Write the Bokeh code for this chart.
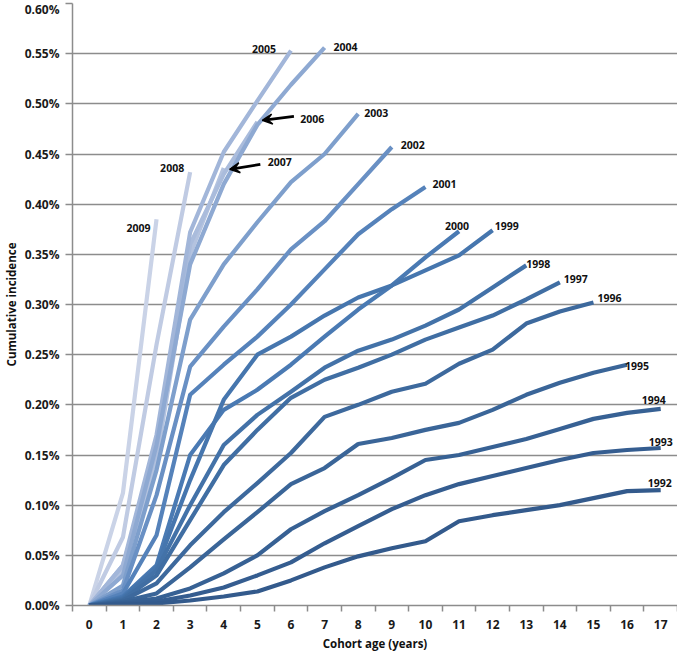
from bokeh.plotting import figure
from bokeh.models import Range1d, FixedTicker, PrintfTickFormatter, Arrow, VeeHead, Label
from bokeh.embed import file_html
from bokeh.resources import INLINE

# ---- data (cumulative incidence, %) ----
ages = list(range(18))
age_labels = [str(a) for a in ages]
cohorts = [1992, 1993, 1994, 1995, 1996, 1997, 1998, 1999, 2000,
           2001, 2002, 2003, 2004, 2005, 2006, 2007, 2008, 2009]

inc_1992 = [0, 0.001, 0.002, 0.005, 0.009, 0.014, 0.025, 0.038, 0.049, 0.057, 0.064, 0.084, 0.090, 0.095, 0.100, 0.107, 0.114, 0.115]
inc_1993 = [0, 0.002, 0.004, 0.010, 0.018, 0.030, 0.043, 0.062, 0.079, 0.096, 0.110, 0.121, 0.129, 0.137, 0.145, 0.152, 0.155, 0.157]
inc_1994 = [0, 0.003, 0.007, 0.017, 0.032, 0.050, 0.076, 0.094, 0.110, 0.127, 0.145, 0.150, 0.158, 0.166, 0.176, 0.186, 0.192, 0.196]
inc_1995 = [0, 0.004, 0.012, 0.038, 0.066, 0.093, 0.121, 0.137, 0.161, 0.167, 0.175, 0.182, 0.195, 0.210, 0.222, 0.232, 0.240]
inc_1996 = [0, 0.005, 0.022, 0.060, 0.093, 0.122, 0.152, 0.188, 0.200, 0.213, 0.221, 0.241, 0.255, 0.281, 0.293, 0.302]
inc_1997 = [0, 0.006, 0.030, 0.085, 0.140, 0.175, 0.207, 0.225, 0.237, 0.250, 0.265, 0.277, 0.289, 0.305, 0.322]
inc_1998 = [0, 0.007, 0.035, 0.100, 0.160, 0.190, 0.213, 0.237, 0.254, 0.265, 0.279, 0.295, 0.317, 0.339]
inc_1999 = [0, 0.008, 0.038, 0.125, 0.205, 0.250, 0.268, 0.289, 0.307, 0.319, 0.334, 0.349, 0.374]
inc_2000 = [0, 0.009, 0.040, 0.150, 0.195, 0.215, 0.240, 0.268, 0.295, 0.319, 0.347, 0.373]
inc_2001 = [0, 0.012, 0.070, 0.210, 0.240, 0.268, 0.300, 0.335, 0.370, 0.395, 0.417]
inc_2002 = [0, 0.015, 0.110, 0.238, 0.278, 0.315, 0.355, 0.383, 0.420, 0.457]
inc_2003 = [0, 0.020, 0.135, 0.285, 0.340, 0.382, 0.422, 0.450, 0.490]
inc_2004 = [0, 0.030, 0.160, 0.340, 0.420, 0.479, 0.519, 0.556]
inc_2005 = [0, 0.040, 0.170, 0.372, 0.452, 0.503, 0.553]
inc_2006 = [0, 0.040, 0.155, 0.360, 0.430, 0.482]
inc_2007 = [0, 0.035, 0.145, 0.350, 0.436]
inc_2008 = [0, 0.068, 0.260, 0.432]
inc_2009 = [0, 0.112, 0.385]

series = [inc_1992, inc_1993, inc_1994, inc_1995, inc_1996, inc_1997, inc_1998,
          inc_1999, inc_2000, inc_2001, inc_2002, inc_2003, inc_2004, inc_2005,
          inc_2006, inc_2007, inc_2008, inc_2009]

y_ticks = [0, 0.05, 0.10, 0.15, 0.20, 0.25, 0.30, 0.35, 0.40, 0.45, 0.50, 0.55, 0.60]

# ---- styles ----
colors = ["#335a8c", "#355d90", "#376194", "#3a6598", "#3d699d", "#406ea3",
          "#4372a8", "#4676ae", "#4a7ab3", "#5582ba", "#6990c4", "#7e9fcc",
          "#8ea9d2", "#a2b6d9", "#aabcdc", "#b4c3df", "#c0cbe3", "#cad3e7"]
# label placement: (x_offset px, y_offset px, align)
label_style = {
    1992: (-13, 7, "left"), 1993: (-12, 6, "left"), 1994: (-19, 9, "left"),
    1995: (-2, -1, "left"), 1996: (4, 4, "left"), 1997: (4, 3, "left"),
    1998: (0, 1, "left"), 1999: (2, 4, "left"), 2000: (-2, 5, "center"),
    2001: (7, 3, "left"), 2002: (9, 2, "left"), 2003: (6, 1, "left"),
    2004: (9, 1, "left"), 2005: (-15, 2, "right"), 2006: (43, 3, "left"),
    2007: (44, 6, "left"), 2008: (-6, 4, "right"), 2009: (-6, -9, "right"),
}

FONT = "Open Sans"
GRID = "#8c8c8c"

p = figure(width=677, height=653, output_backend="svg",
           toolbar_location=None, x_range=Range1d(-0.5, 17.5),
           y_range=Range1d(0, 0.6), min_border_left=67, min_border_right=0,
           min_border_top=3, min_border_bottom=48)
p.outline_line_color = None
p.background_fill_color = "white"

# lines: draw lightest first so darker cohorts are on top
for coh, vals, col in reversed(list(zip(cohorts, series, colors))):
    p.line(ages[:len(vals)], vals, line_color=col, line_width=4.2,
           line_join="round")

for coh, vals in zip(cohorts, series):
    xo, yo, al = label_style[coh]
    p.add_layout(Label(x=len(vals) - 1, y=vals[-1], text=str(coh),
                       x_offset=xo, y_offset=yo, text_align=al,
                       text_baseline="middle", text_font=FONT,
                       text_font_size="10.5px", text_font_style="bold",
                       text_color="#111111"))

# arrows pointing at 2006 and 2007 ends
px = lambda v: (v - 93) / 34.0
py = lambda v: (613 - v) / 1003.0
for (xs, ys, xe, ye) in [(300, 124, 268, 128), (266, 172, 235, 177)]:
    p.add_layout(Arrow(end=VeeHead(size=10, fill_color="black", line_color="black",
                                   line_width=1.5),
                       x_start=px(xs), y_start=py(ys), x_end=px(xe), y_end=py(ye),
                       line_color="black", line_width=2.8))

# axes
p.xaxis.ticker = FixedTicker(ticks=ages, minor_ticks=[a - 0.5 for a in range(19)])
p.xaxis.major_label_overrides = {a: l for a, l in zip(ages, age_labels)}
p.xaxis.major_tick_line_color = None
p.xaxis.major_tick_out = 0
p.xaxis.major_tick_in = 0
p.xaxis.minor_tick_out = 6
p.xaxis.minor_tick_in = 0
p.xaxis.minor_tick_line_color = GRID
p.xaxis.minor_tick_line_width = 1.5
p.xaxis.major_label_standoff = 8
p.xaxis.axis_label = "Cohort age (years)"
p.xaxis.axis_label_standoff = 4

p.yaxis.ticker = FixedTicker(ticks=y_ticks)
p.yaxis.formatter = PrintfTickFormatter(format="%.2f%%")
p.yaxis.minor_tick_line_color = None
p.yaxis.major_tick_out = 7
p.yaxis.major_tick_in = 0
p.yaxis.major_tick_line_color = GRID
p.yaxis.major_tick_line_width = 1.5
p.yaxis.major_label_standoff = 6
p.yaxis.axis_label = "Cumulative incidence"
p.yaxis.axis_label_standoff = 3

for ax in (p.xaxis[0], p.yaxis[0]):
    ax.axis_line_color = GRID
    ax.axis_line_width = 1.5
    ax.major_label_text_font = FONT
    ax.major_label_text_font_style = "bold"
    ax.major_label_text_font_size = "12px"
    ax.major_label_text_color = "#1a1a1a"
    ax.axis_label_text_font = FONT
    ax.axis_label_text_font_style = "bold"
    ax.axis_label_text_font_size = "11.5px"
    ax.axis_label_text_color = "#111111"

p.xgrid.visible = False
p.ygrid.grid_line_color = GRID
p.ygrid.grid_line_width = 1.5

open("out.html", "w").write(file_html(p, INLINE))
